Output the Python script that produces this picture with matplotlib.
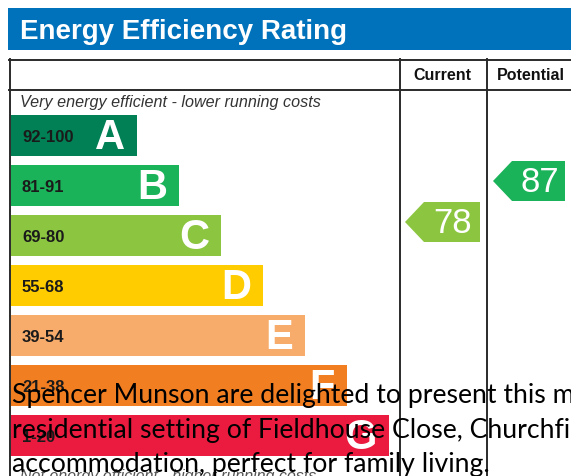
import matplotlib
matplotlib.use("Agg")
import matplotlib.pyplot as plt
from matplotlib.patches import Polygon, Rectangle

# ---- data ----
bands = ["A", "B", "C", "D", "E", "F", "G"]
ranges = ["92-100", "81-91", "69-80", "55-68", "39-54", "21-38", "1-20"]
band_colors = ["#008054", "#1bb35a", "#8cc641", "#ffcc00", "#f7ac6b", "#f27e22", "#ea1b3f"]
current_value = 78
potential_value = 87
current_band = "C"
potential_band = "B"
title = "Energy Efficiency Rating"
col_headers = ["Current", "Potential"]
top_note = "Very energy efficient - lower running costs"
bottom_note = "Not energy efficient - higher running costs"
overlay_lines = [
    "Spencer Munson are delighted to present this m",
    "residential setting of Fieldhouse Close, Churchfie",
    "accommodation, perfect for family living.",
]

W, H = 571, 477
fig = plt.figure(figsize=(W / 100, H / 100), dpi=100)
ax = fig.add_axes([0, 0, 1, 1])
ax.set_xlim(0, W)
ax.set_ylim(H, 0)
ax.axis("off")

SANS = ["Liberation Sans", "DejaVu Sans"]

# header band
ax.add_patch(Rectangle((8, 9), 600, 42, color="#0072bb", lw=0))
ax.text(20, 32, title, color="white", fontsize=20, fontweight="bold",
        family=SANS, va="center", ha="left")

# frame
lc = "#2a2a2a"
lw = 1.4
ax.plot([9, 620], [60.5, 60.5], color=lc, lw=lw)
ax.plot([9, 620], [90.5, 90.5], color=lc, lw=lw)
for x in (9.5, 399.5, 486.5):
    ax.plot([x, x], [60, 500], color=lc, lw=lw)
ax.text(442, 75.5, col_headers[0], fontsize=11.5, fontweight="bold", family=SANS,
        ha="center", va="center", color="#111111")
ax.text(531, 75.5, col_headers[1], fontsize=11.5, fontweight="bold", family=SANS,
        ha="center", va="center", color="#111111")

ax.text(20, 103, top_note, fontsize=11.6, style="italic", family=SANS,
        ha="left", va="center", color="#333333")

# bars
row_top0 = 116
row_step = 50
bar_h = 41
bar_left = 11
len0, len_step = 126, 42
centers = [row_top0 + bar_h / 2 + i * row_step for i in range(len(bands))]
lengths = [len0 + i * len_step for i in range(len(bands))]
ax.barh(centers, lengths, left=bar_left, height=bar_h, color=band_colors, lw=0)
for c, L, b, r in zip(centers, lengths, bands, ranges):
    ax.text(22, c + 1, r, fontsize=12, fontweight="bold", family=SANS,
            ha="left", va="center", color="#1a1a1a")
    ax.text(bar_left + L - 12, c + 2, b, fontsize=30, fontweight="bold", family=SANS,
            ha="right", va="center", color="white")

# arrows
def arrow(x_tip, x_right, yc, h, color, value):
    tip = 19
    pts = [(x_tip, yc), (x_tip + tip, yc - h / 2), (x_right, yc - h / 2),
           (x_right, yc + h / 2), (x_tip + tip, yc + h / 2)]
    ax.add_patch(Polygon(pts, closed=True, color=color, lw=0))
    ax.text((x_tip + tip + x_right) / 2 + 1, yc + 1, str(value), fontsize=25,
            family=SANS, ha="center", va="center", color="white")

arrow(405, 480, 223, 40, band_colors[bands.index(current_band)], current_value)
arrow(493, 565, 182, 40, band_colors[bands.index(potential_band)], potential_value)

# bottom note (mostly hidden)
ax.text(20, 469, bottom_note, fontsize=11.5, style="italic", family=SANS,
        ha="left", va="top", color="#555555")

# overlay text
baselines = [403, 438, 472]
for y, t in zip(baselines, overlay_lines):
    ax.text(12, y, t, fontsize=19.2, family=["Lato", "DejaVu Sans"],
            ha="left", va="baseline", color="black")

fig.savefig("out.png", dpi=100)
